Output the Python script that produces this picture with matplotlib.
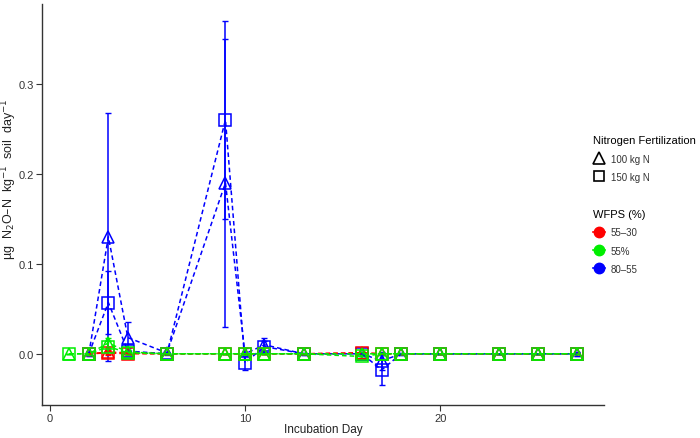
import numpy as np
import matplotlib.pyplot as plt
from matplotlib.lines import Line2D

plt.rcParams['font.family'] = ['Liberation Sans', 'DejaVu Sans']

days = [1, 2, 3, 4, 6, 9, 10, 11, 13, 16, 17, 18, 20, 23, 25, 27]

# mean flux per treatment (WFPS, N rate), NaN = not measured
blue_100 = [np.nan, 0.0, 0.130, 0.018, 0.001, 0.190, 0.000, 0.010, 0.0, 0.0, -0.008, 0.0, 0.0, 0.0, 0.0, 0.0]
blue_100_err = [0, 0.002, 0.138, 0.017, 0.001, 0.160, 0.006, 0.008, 0.001, 0.002, 0.010, 0.001, 0, 0, 0, 0.002]
blue_150 = [np.nan, 0.0, 0.057, 0.003, 0.000, 0.260, -0.010, 0.008, 0.0, 0.0, -0.018, 0.0, 0.0, 0.0, 0.0, 0.0]
blue_150_err = [0, 0.002, 0.035, 0.003, 0.001, 0.110, 0.008, 0.006, 0.001, 0.002, 0.017, 0.001, 0, 0, 0, 0.002]
red_100 = [np.nan, 0.0, 0.002, 0.001, 0.0, 0.0, 0.0, 0.0, 0.0, 0.001, 0.0, 0.0, 0.0, 0.0, 0.0, 0.0]
red_150 = [np.nan, 0.0, 0.001, 0.0, 0.0, 0.0, 0.0, 0.0, 0.0, 0.001, 0.0, 0.0, 0.0, 0.0, 0.0, 0.0]
red_err = [0, 0.001, 0.002, 0.001, 0, 0, 0, 0, 0, 0.001, 0, 0, 0, 0, 0, 0]
green_100 = [0.0, 0.0, 0.012, 0.002, 0.0, 0.0, 0.0, 0.0, 0.0, 0.0, 0.0, 0.0, 0.0, 0.0, 0.0, 0.0]
green_150 = [0.0, 0.0, 0.008, 0.001, 0.0, 0.0, 0.0, 0.0, 0.0, -0.003, 0.0, 0.0, 0.0, 0.0, 0.0, 0.0]
green_err = [0, 0.001, 0.006, 0.002, 0, 0, 0.001, 0, 0, 0.002, 0.001, 0, 0, 0, 0, 0]

wfps_labels = ['55\u201330', '55%', '80\u201355']
colors = {'red': '#ff0000', 'green': '#00ee00', 'blue': '#0000ff'}

series = [
    ('blue', '^', blue_100, blue_100_err),
    ('blue', 's', blue_150, blue_150_err),
    ('red', '^', red_100, red_err),
    ('red', 's', red_150, red_err),
    ('green', '^', green_100, green_err),
    ('green', 's', green_150, green_err),
]

fig = plt.figure(figsize=(7, 4.39), dpi=100)
ax = fig.add_axes([0.06, 0.075, 0.803, 0.914])

for col, mk, vals, err in series:
    c = colors[col]
    ax.errorbar(days, vals, yerr=err, color=c, ls='none', lw=1.1,
                capsize=2, capthick=1, zorder=2)
    ax.plot(days, vals, color=c, ls=(0, (3, 2)), lw=1.1, marker=mk,
            markersize=8, markerfacecolor='none', markeredgewidth=1.1,
            zorder=3)

ax.set_xlim(-0.4, 28.4)
ax.set_ylim(-0.057, 0.389)
ax.set_xticks([0, 10, 20])
ax.set_yticks([0.0, 0.1, 0.2, 0.3])
ax.set_yticklabels(['0.0', '0.1', '0.2', '0.3'])
ax.tick_params(labelsize=8, length=4, width=0.8, pad=1.5, colors='#333333',
               labelcolor='#333333')
ax.spines[['top', 'right']].set_visible(False)
for s in ['left', 'bottom']:
    ax.spines[s].set_color('#333333')
    ax.spines[s].set_linewidth(1.0)

ax.set_xlabel('Incubation Day', fontsize=8.5, color='#222222', va='center')
ax.xaxis.set_label_coords(0.5, -0.06)
ax.set_ylabel('\u00b5g  N$_2$O\u2013N  kg$^{-1}$  soil  day$^{-1}$', fontsize=9,
              color='#222222', va='center')
ax.yaxis.set_label_coords(-0.058, 0.565)

n_handles = [Line2D([], [], color='black', ls='none', marker='^', markersize=8,
                    markerfacecolor='none', markeredgewidth=1.2),
             Line2D([], [], color='black', ls='none', marker='s', markersize=7,
                    markerfacecolor='none', markeredgewidth=1.2)]
leg1 = fig.legend(n_handles, ['100 kg N', '150 kg N'], title='Nitrogen Fertilization',
                  loc='upper left', bbox_to_anchor=(0.838, 0.705), frameon=False,
                  fontsize=7, title_fontsize=8, alignment='left',
                  handlelength=1.2, handletextpad=0.6, labelspacing=0.85,
                  borderpad=0.2)
w_handles = [Line2D([], [], color=colors[c], marker='o', markersize=7.5, lw=1.2)
             for c in ['red', 'green', 'blue']]
leg2 = fig.legend(w_handles, wfps_labels, title='WFPS (%)',
                  loc='upper left', bbox_to_anchor=(0.838, 0.537), frameon=False,
                  fontsize=7, title_fontsize=8, alignment='left',
                  handlelength=1.2, handletextpad=0.6, labelspacing=0.85,
                  borderpad=0.2)
for t in leg1.get_texts() + leg2.get_texts():
    t.set_color('#333333')

fig.savefig('out.png', dpi=100)
